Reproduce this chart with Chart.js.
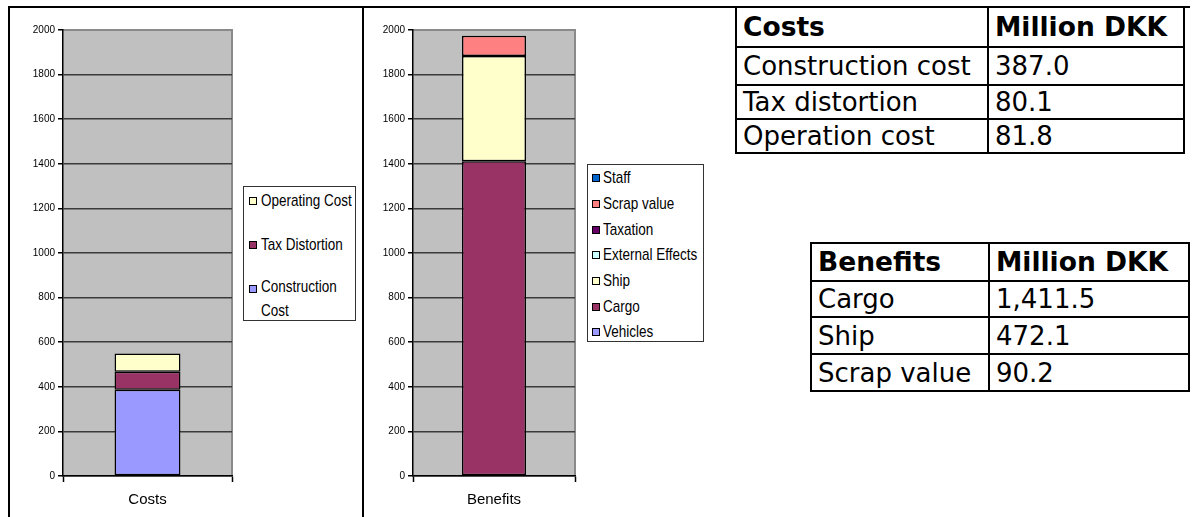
<!DOCTYPE html>
<html>
<head>
<meta charset="utf-8">
<script src="https://cdn.jsdelivr.net/npm/chart.js@4.4.1/dist/chart.umd.min.js"></script>
<style>
  html, body { margin: 0; padding: 0; background: #fff; }
  body { width: 1196px; height: 517px; position: relative; overflow: hidden; }
  .line { position: absolute; background: #000; }
  canvas { position: absolute; }
  .legend { position: absolute; border: 1px solid #333; background: #fff;
            font-family: "Liberation Sans", Arial, sans-serif; font-size: 13.5px; color: #000; }
  .legend .item { position: absolute; left: 0; white-space: nowrap; line-height: 20px; }
  .legend .box { position: absolute; width: 6px; height: 6px; border: 1px solid #000; top: 6px; }
  .legend .txt { position: absolute; top: 0; transform: scaleY(1.18); transform-origin: 0 50%; }
  table.tbl { position: absolute; border-collapse: collapse; font-family: "DejaVu Sans", Verdana, sans-serif;
              font-size: 26px; color: #000; }
  table.tbl td { border: 2px solid #000; padding: 0 6px; white-space: nowrap; vertical-align: middle; line-height: 28px; }
  table.tbl tr.head td { font-weight: bold; font-size: 26.5px; }
</style>
</head>
<body>
<div class="line" style="left:8px; top:6px; width:1182px; height:2px;"></div>
<div class="line" style="left:8px; top:6px; width:2px; height:511px;"></div>
<div class="line" style="left:362px; top:6px; width:2px; height:511px;"></div>

<canvas id="costChart" width="230" height="517" style="left:10px; top:0;"></canvas>
<canvas id="benefitChart" width="217" height="517" style="left:366px; top:0;"></canvas>
<div id="costLegend" class="legend" style="left:243px; top:186px; width:111px; height:133px;"></div>
<div id="benefitLegend" class="legend" style="left:587px; top:164px; width:115px; height:176px;"></div>

<table id="costTable" class="tbl" style="left:735px; top:6px;"></table>
<table id="benefitTable" class="tbl" style="left:810px; top:242px;"></table>

<script>
// costs (million DKK), stacked bottom to top
const costCategories = ['Costs'];
const costSeries = ['Construction Cost', 'Tax Distortion', 'Operating Cost'];
const costValues = [387.0, 80.1, 81.8];
const costColors = ['#9999FF', '#993366', '#FFFFCC'];

// benefits (million DKK), stacked bottom to top
const benefitCategories = ['Benefits'];
const benefitSeries = ['Vehicles', 'Cargo', 'Ship', 'External Effects', 'Taxation', 'Scrap value', 'Staff'];
const benefitValues = [0, 1411.5, 472.1, 0, 0, 90.2, 0];
const benefitColors = ['#9999FF', '#993366', '#FFFFCC', '#CCFFFF', '#660066', '#FF8080', '#0066CC'];

// y axis
const yMin = 0;
const yMax = 2000;
const yStep = 200;

// table rows
const costTableHead = ['Costs', 'Million DKK'];
const costTableLabels = ['Construction cost', 'Tax distortion', 'Operation cost'];
const benefitTableHead = ['Benefits', 'Million DKK'];
const benefitTableLabels = ['Cargo', 'Ship', 'Scrap value'];
const benefitTableValues = [benefitValues[1], benefitValues[2], benefitValues[5]];

// grey plot area with a grey frame on top and right
const plotFrame = {
  id: 'plotFrame',
  beforeDraw(chart) {
    const a = chart.chartArea;
    const ctx = chart.ctx;
    ctx.save();
    ctx.fillStyle = '#C0C0C0';
    ctx.fillRect(a.left, a.top, a.right - a.left, a.bottom - a.top);
    ctx.strokeStyle = '#8a8a8a';
    ctx.lineWidth = 2;
    ctx.beginPath();
    ctx.moveTo(a.left, a.top);
    ctx.lineTo(a.right, a.top);
    ctx.lineTo(a.right, a.bottom);
    ctx.stroke();
    ctx.restore();
  }
};

function makeChart(id, categories, names, values, colors, axisWidth, barPct) {
  const datasets = names.map(function (name, i) {
    return {
      label: name,
      data: [values[i]],
      backgroundColor: colors[i],
      borderColor: '#000',
      borderWidth: 1.5,
      borderSkipped: false,
      barPercentage: 1,
      categoryPercentage: barPct
    };
  });
  return new Chart(document.getElementById(id), {
    type: 'bar',
    data: { labels: categories, datasets: datasets },
    plugins: [plotFrame],
    options: {
      responsive: false,
      animation: false,
      layout: { padding: { top: 30, right: 8, left: 0, bottom: 0 } },
      plugins: { legend: { display: false }, tooltip: { enabled: false } },
      scales: {
        x: {
          stacked: true,
          border: { display: true, color: '#000', width: 1.5 },
          grid: { display: true, drawOnChartArea: false, offset: true, tickLength: 6, tickColor: '#000', tickWidth: 1.5 },
          ticks: { color: '#000', padding: 9, font: { family: 'Liberation Sans', size: 15 } },
          afterFit: function (s) { s.height = 41; }
        },
        y: {
          stacked: true,
          min: yMin,
          max: yMax,
          border: { display: true, color: '#000', width: 1.5 },
          grid: {
            color: function (c) { return c.tick && c.tick.value === yMax ? 'rgba(0,0,0,0)' : '#3a3a3a'; },
            lineWidth: 1.5,
            tickLength: 5,
            tickColor: '#000',
            tickWidth: 1.5
          },
          ticks: {
            stepSize: yStep,
            color: '#000',
            padding: 3,
            font: { family: 'Liberation Sans', size: 10 },
            callback: function (v) { return String(v); }
          },
          afterFit: function (s) { s.width = axisWidth; }
        }
      }
    }
  });
}

makeChart('costChart', costCategories, costSeries, costValues, costColors, 53, 0.39);
makeChart('benefitChart', benefitCategories, benefitSeries, benefitValues, benefitColors, 47, 0.395);

// legends list the series top of stack first
function makeLegend(id, names, colors, rowTops, boxLeft, textLeft, width) {
  const el = document.getElementById(id);
  for (let i = names.length - 1, r = 0; i >= 0; i--, r++) {
    const item = document.createElement('div');
    item.className = 'item';
    item.style.top = rowTops[r] + 'px';
    const box = document.createElement('div');
    box.className = 'box';
    box.style.left = boxLeft + 'px';
    box.style.background = colors[i];
    const txt = document.createElement('div');
    txt.className = 'txt';
    txt.style.left = textLeft + 'px';
    txt.style.width = width + 'px';
    txt.style.whiteSpace = 'normal';
    txt.textContent = names[i];
    item.appendChild(box);
    item.appendChild(txt);
    el.appendChild(item);
  }
}
makeLegend('costLegend', costSeries, costColors, [4, 48, 92], 5, 17, 92);
makeLegend('benefitLegend', benefitSeries, benefitColors, [3, 29, 55, 80, 106, 132, 157], 4, 15, 100);

function fmt(v) {
  return v.toLocaleString('en-US', { minimumFractionDigits: 1, maximumFractionDigits: 1 });
}

function makeTable(id, head, labels, values, heights, widths) {
  const t = document.getElementById(id);
  const rows = [head].concat(labels.map(function (l, i) { return [l, fmt(values[i])]; }));
  rows.forEach(function (r, i) {
    const tr = document.createElement('tr');
    if (i === 0) tr.className = 'head';
    tr.style.height = heights[i] + 'px';
    r.forEach(function (cell, j) {
      const td = document.createElement('td');
      td.textContent = cell;
      td.style.width = widths[j] + 'px';
      tr.appendChild(td);
    });
    t.appendChild(tr);
  });
}
makeTable('costTable', costTableHead, costTableLabels, costValues, [40, 38, 34, 34], [238, 182]);
makeTable('benefitTable', benefitTableHead, benefitTableLabels, benefitTableValues, [38, 36, 37, 37], [164, 186]);
</script>
</body>
</html>
